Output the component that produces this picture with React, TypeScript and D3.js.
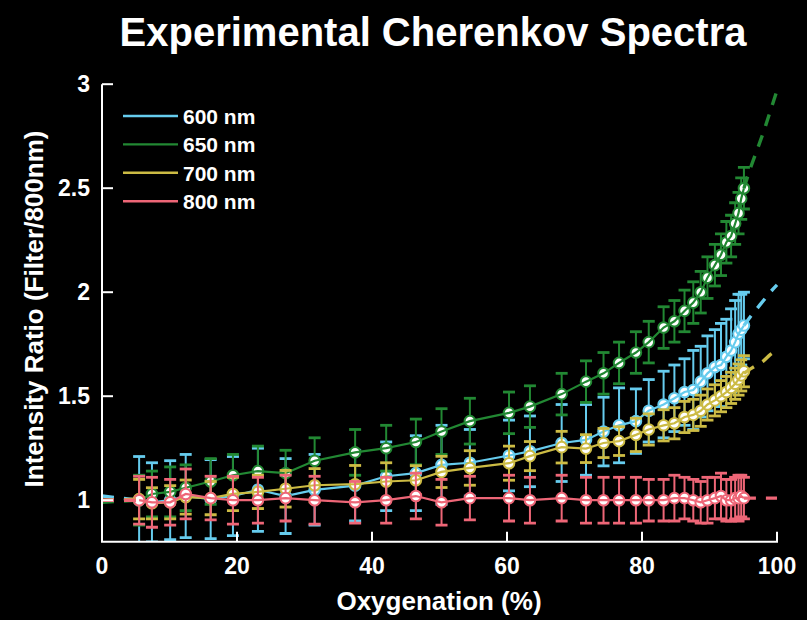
import React from "react";
import * as d3 from "d3";

// ---------- data ----------
const oxygenation = [
  5.5, 7.4, 10.1, 12.4, 16.1, 19.4, 23.1, 27.2, 31.5, 37.5, 42.1, 46.5, 50.3, 54.5,
  60.3, 63.4, 68.1, 71.7, 74.3, 76.6, 79.1, 81.0, 83.2, 84.8, 86.3, 87.6, 88.7, 89.7,
  90.8, 91.7, 92.5, 93.2, 93.8, 94.3, 94.7, 95.1,
];

const ratio600 = [
  1.0, 0.99, 1.0, 1.02, 1.005, 1.02, 1.05, 1.02, 1.05, 1.07, 1.115, 1.13, 1.17, 1.18,
  1.215, 1.235, 1.275, 1.29, 1.33, 1.36, 1.38, 1.43, 1.46, 1.49, 1.52, 1.53, 1.57, 1.61,
  1.64, 1.65, 1.69, 1.72, 1.76, 1.8, 1.82, 1.84,
];
const err600 = [
  0.21, 0.19, 0.19, 0.2, 0.19, 0.19, 0.2, 0.18, 0.17, 0.17, 0.165, 0.18, 0.19, 0.16,
  0.17, 0.17, 0.185, 0.17, 0.165, 0.18, 0.155, 0.15, 0.16, 0.16, 0.16, 0.19, 0.17, 0.18,
  0.18, 0.2, 0.18, 0.2, 0.2, 0.19, 0.17, 0.16,
];

const ratio650 = [
  1.0, 1.03, 1.04, 1.06, 1.09, 1.12, 1.14, 1.13, 1.19, 1.23, 1.25, 1.28, 1.33, 1.38,
  1.42, 1.45, 1.51, 1.57, 1.61, 1.66, 1.71, 1.76, 1.83, 1.86, 1.91, 1.95, 2.0, 2.07,
  2.13, 2.18, 2.24, 2.27, 2.33, 2.38, 2.45, 2.5,
];
const err650 = [
  0.12, 0.11, 0.12, 0.11, 0.11, 0.1, 0.12, 0.11, 0.11, 0.11, 0.11, 0.11, 0.11, 0.11,
  0.1, 0.1, 0.1, 0.1, 0.1, 0.1, 0.1, 0.1, 0.1, 0.1, 0.1, 0.1, 0.1, 0.1,
  0.1, 0.1, 0.1, 0.1, 0.1, 0.1, 0.1, 0.1,
];

const ratio700 = [
  1.005, 0.985, 0.99, 1.015, 1.01, 1.03, 1.04, 1.055, 1.072, 1.077, 1.09, 1.096, 1.136, 1.155,
  1.178, 1.212, 1.255, 1.248, 1.275, 1.284, 1.314, 1.34, 1.36, 1.37, 1.4, 1.41, 1.43, 1.46,
  1.48, 1.5, 1.52, 1.54, 1.56, 1.58, 1.6, 1.62,
];
const err700 = [
  0.095, 0.075, 0.08, 0.082, 0.08, 0.08, 0.08, 0.088, 0.08, 0.09, 0.09, 0.07, 0.075, 0.083,
  0.082, 0.07, 0.076, 0.067, 0.07, 0.069, 0.08, 0.075, 0.075, 0.075, 0.075, 0.075, 0.075, 0.075,
  0.075, 0.075, 0.075, 0.075, 0.075, 0.075, 0.075, 0.075,
];

const ratio800 = [
  1.0, 0.99, 0.99, 1.03, 1.01, 1.0, 1.0, 1.01, 1.0, 0.99, 1.0, 1.02, 0.99, 1.01,
  1.01, 1.0, 1.01, 1.0, 1.0, 1.0, 1.0, 1.0, 1.0, 1.01, 1.01, 1.0, 0.99, 1.0,
  1.01, 1.02, 1.0, 1.0, 1.01, 1.01, 1.02, 1.01,
];
const err800 = [
  0.115, 0.12, 0.11, 0.12, 0.105, 0.115, 0.11, 0.11, 0.115, 0.1, 0.11, 0.11, 0.11, 0.105,
  0.11, 0.11, 0.11, 0.11, 0.11, 0.11, 0.11, 0.1, 0.1, 0.11, 0.1, 0.1, 0.1, 0.11,
  0.1, 0.11, 0.1, 0.1, 0.1, 0.11, 0.1, 0.1,
];

// extrapolated fit (dashed) beyond the measured range
const fitLeftX = [0, 5.5];
const fitLeft600 = [1.02, 1.0];
const fitLeft650 = [0.99, 1.0];
const fitLeft700 = [1.0, 1.005];
const fitLeft800 = [1.0, 1.0];

const fitRightX = [95.1, 96, 97, 98, 99, 100];
const fitRight600 = [1.84, 1.88, 1.92, 1.96, 2.0, 2.035];
const fitRight650 = [2.5, 2.59, 2.68, 2.77, 2.87, 2.97];
const fitRight700 = [1.61, 1.63, 1.65, 1.67, 1.7, 1.72];
const fitRight800 = [1.01, 1.01, 1.01, 1.01, 1.01, 1.01];

const seriesNames = ["600 nm", "650 nm", "700 nm", "800 nm"];
const seriesColors = ["#66CCEE", "#228833", "#CCBB44", "#EE6677"];

const xTicks = [0, 20, 40, 60, 80, 100];
const yTicks = [1, 1.5, 2, 2.5, 3];

const titleText = "Experimental Cherenkov Spectra";
const xLabel = "Oxygenation (%)";
const yLabel = "Intensity Ratio (Filter/800nm)";

// ---------- chart ----------
const W = 807;
const H = 620;
const FONT = "'Liberation Sans', Arial, Helvetica, sans-serif";

export default function App() {
  const x = d3.scaleLinear().domain([0, 100]).range([102, 777]);
  const y = d3.scaleLinear().domain([0.8, 3]).range([541.8, 84.2]);

  const series = [
    { values: ratio600, errs: err600, fl: fitLeft600, fr: fitRight600 },
    { values: ratio650, errs: err650, fl: fitLeft650, fr: fitRight650 },
    { values: ratio700, errs: err700, fl: fitLeft700, fr: fitRight700 },
    { values: ratio800, errs: err800, fl: fitLeft800, fr: fitRight800 },
  ].map((s, i) => ({ ...s, name: seriesNames[i], color: seriesColors[i] }));

  const line = d3
    .line<[number, number]>()
    .x((d) => x(d[0]))
    .y((d) => y(d[1]));
  const fitLine = d3
    .line<[number, number]>()
    .x((d) => x(d[0]))
    .y((d) => y(d[1]))
    .curve(d3.curveMonotoneX);

  const capHalf = 6;
  const [x0, x1] = x.range();
  const yBottom = y(0.8);
  const yTop = y(3);

  return (
    <svg
      width={W}
      height={H}
      style={{ position: "absolute", left: 0, top: 0, display: "block" }}
      fontFamily={FONT}
    >
      <rect x={0} y={0} width={W} height={H} fill="#000" />
      <defs>
        <clipPath id="plotClip">
          <rect x={x0} y={60} width={x1 - x0 + 2} height={yBottom - 60} />
        </clipPath>
      </defs>

      <g clipPath="url(#plotClip)">
        {series.map((s, si) => {
          const pts: [number, number][] = oxygenation.map((o, i) => [o, s.values[i]]);
          return (
            <g key={si}>
              {oxygenation.map((o, i) => {
                const cx = x(o);
                const yt = y(s.values[i] + s.errs[i]);
                const yb = y(s.values[i] - s.errs[i]);
                return (
                  <g key={i} stroke={s.color}>
                    <line x1={cx} x2={cx} y1={yt} y2={yb} strokeWidth={2} />
                    <line x1={cx - capHalf} x2={cx + capHalf} y1={yt} y2={yt} strokeWidth={2.8} />
                    <line x1={cx - capHalf} x2={cx + capHalf} y1={yb} y2={yb} strokeWidth={2.8} />
                  </g>
                );
              })}
              {oxygenation.map((o, i) => (
                <circle
                  key={"m" + i}
                  cx={x(o)}
                  cy={y(s.values[i])}
                  r={5.3}
                  fill="#fff"
                  stroke={s.color}
                  strokeWidth={2}
                />
              ))}
              <path d={line(pts) || ""} fill="none" stroke={s.color} strokeWidth={2.2} />
            </g>
          );
        })}
        {series.map((s, si) => {
          const left: [number, number][] = fitLeftX.map((v, i) => [v, s.fl[i]]);
          const right: [number, number][] = fitRightX.map((v, i) => [v, s.fr[i]]);
          return (
            <g key={"fit" + si} fill="none" stroke={s.color} strokeWidth={3.4} strokeDasharray="12 10">
              <path d={fitLine(left) || ""} />
              <path d={fitLine(right) || ""} />
            </g>
          );
        })}
      </g>

      {/* axes */}
      <g stroke="#fff" strokeWidth={2}>
        <line x1={x0} x2={x0} y1={yTop} y2={yBottom} />
        <line x1={x0 - 1} x2={x1 + 1} y1={yBottom} y2={yBottom} />
        {xTicks.map((t) => (
          <line key={"xt" + t} x1={x(t)} x2={x(t)} y1={yBottom} y2={yBottom - 10} />
        ))}
        {yTicks.map((t) => (
          <line key={"yt" + t} x1={x0} x2={x0 + 11} y1={y(t)} y2={y(t)} />
        ))}
      </g>
      <g fill="#fff" fontWeight="bold" fontSize={23}>
        {xTicks.map((t) => (
          <text key={"xl" + t} x={x(t)} y={574} textAnchor="middle">
            {t}
          </text>
        ))}
        {yTicks.map((t) => (
          <text key={"yl" + t} x={90} y={y(t)} textAnchor="end" dominantBaseline="central">
            {String(t)}
          </text>
        ))}
      </g>

      {/* labels */}
      <text x={433} y={46} textAnchor="middle" fill="#fff" fontWeight="bold" fontSize={40}>
        {titleText}
      </text>
      <text x={439} y={610} textAnchor="middle" fill="#fff" fontWeight="bold" fontSize={26}>
        {xLabel}
      </text>
      <text
        transform={`translate(43, 309) rotate(-90)`}
        textAnchor="middle"
        fill="#fff"
        fontWeight="bold"
        fontSize={26}
      >
        {yLabel}
      </text>

      {/* legend */}
      <g>
        {series.map((s, i) => {
          const ly = 116 + i * 28.4;
          return (
            <g key={"lg" + i}>
              <line x1={123} x2={178} y1={ly} y2={ly} stroke={s.color} strokeWidth={2.4} />
              <text x={183} y={ly + 8} fill="#fff" fontWeight="bold" fontSize={21}>
                {s.name}
              </text>
            </g>
          );
        })}
      </g>
    </svg>
  );
}
